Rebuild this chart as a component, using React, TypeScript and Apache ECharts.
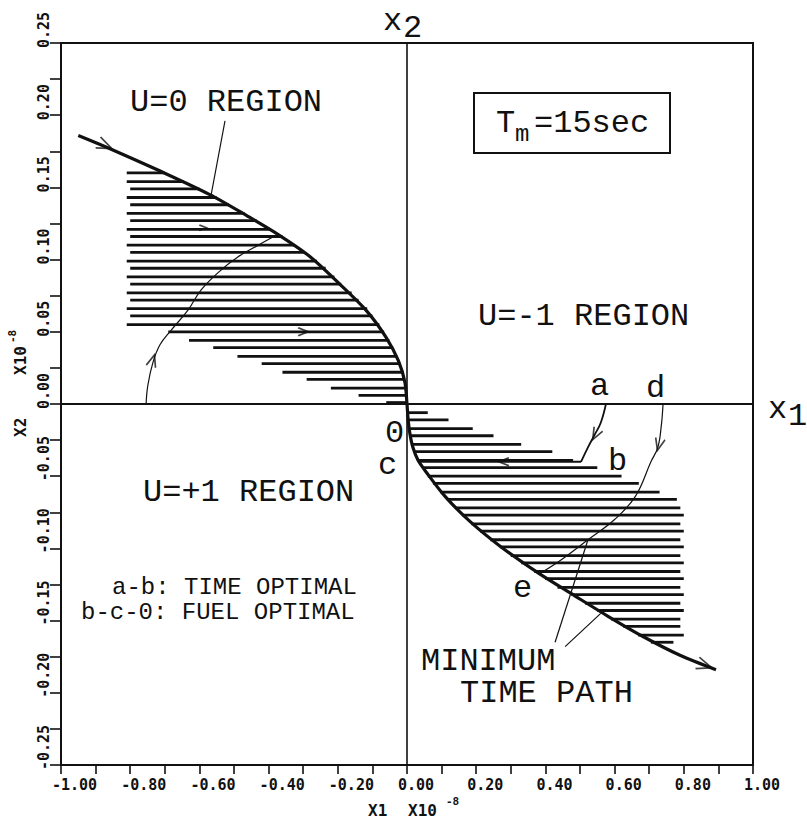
import React, { useEffect, useRef } from 'react';
import * as echarts from 'echarts';

// ---- tick labels ----
const xTickLabels = ['-1.00', '-0.80', '-0.60', '-0.40', '-0.20', '0.00', '0.20', '0.40', '0.60', '0.80', '1.00'];
const yTickLabels = ['-0.25', '-0.20', '-0.15', '-0.10', '-0.05', '0.00', '0.05', '0.10', '0.15', '0.20', '0.25'];

// ---- switching curve (x1, x2) ----
const switchingCurve: number[][] = [
  [-0.95, 0.186], [-0.86, 0.177], [-0.72, 0.162], [-0.57, 0.145], [-0.46, 0.130],
  [-0.37, 0.117], [-0.28, 0.102], [-0.19, 0.082], [-0.115, 0.064], [-0.06, 0.046],
  [-0.025, 0.030], [-0.006, 0.015], [0, 0], [0.003, -0.010], [0.008, -0.020],
  [0.017, -0.030], [0.032, -0.039], [0.052, -0.046], [0.11, -0.064], [0.185, -0.082],
  [0.272, -0.099], [0.379, -0.117], [0.486, -0.133], [0.581, -0.147], [0.682, -0.161],
  [0.789, -0.174], [0.893, -0.184],
];

// ---- hatch rows: [x2, x1 start, x1 end] ----
const upperHatch: number[][] = [
  [0.160, -0.81, -0.70], [0.154, -0.81, -0.645], [0.149, -0.80, -0.60], [0.143, -0.81, -0.55],
  [0.138, -0.80, -0.515], [0.132, -0.81, -0.47], [0.127, -0.80, -0.435], [0.121, -0.81, -0.395],
  [0.116, -0.80, -0.36], [0.110, -0.81, -0.325], [0.105, -0.80, -0.295], [0.099, -0.81, -0.26],
  [0.094, -0.80, -0.235], [0.088, -0.81, -0.21], [0.083, -0.80, -0.19], [0.077, -0.81, -0.16],
  [0.072, -0.80, -0.14], [0.066, -0.81, -0.115], [0.061, -0.80, -0.10], [0.055, -0.81, -0.08],
  [0.050, -0.69, -0.066], [0.044, -0.63, -0.051], [0.039, -0.56, -0.04], [0.033, -0.49, -0.028],
  [0.028, -0.42, -0.019], [0.022, -0.36, -0.011], [0.017, -0.29, -0.006], [0.011, -0.22, -0.003],
  [0.006, -0.14, 0.0], [0.001, -0.06, 0.0],
];
const lowerHatch: number[][] = [
  [-0.006, 0.0, 0.06], [-0.011, 0.002, 0.12], [-0.017, 0.005, 0.19], [-0.022, 0.008, 0.25],
  [-0.028, 0.013, 0.33], [-0.033, 0.019, 0.42], [-0.039, 0.030, 0.48], [-0.044, 0.044, 0.55],
  [-0.050, 0.060, 0.62], [-0.055, 0.075, 0.67], [-0.061, 0.097, 0.73], [-0.066, 0.115, 0.78],
  [-0.072, 0.139, 0.79], [-0.077, 0.16, 0.80], [-0.083, 0.186, 0.79], [-0.088, 0.211, 0.80],
  [-0.094, 0.241, 0.79], [-0.099, 0.268, 0.80], [-0.105, 0.30, 0.79], [-0.110, 0.33, 0.80],
  [-0.116, 0.368, 0.79], [-0.121, 0.399, 0.80], [-0.127, 0.435, 0.79], [-0.132, 0.475, 0.80],
  [-0.138, 0.515, 0.79], [-0.143, 0.55, 0.80], [-0.149, 0.59, 0.79], [-0.154, 0.625, 0.79],
  [-0.160, 0.668, 0.80], [-0.165, 0.705, 0.77],
];

// ---- trajectories ----
const trajUPlus: number[][] = [
  [-0.754, 0.0], [-0.749, 0.013], [-0.734, 0.029], [-0.714, 0.041], [-0.682, 0.051],
  [-0.633, 0.065], [-0.595, 0.079], [-0.546, 0.091], [-0.488, 0.102], [-0.43, 0.110], [-0.385, 0.116],
];
const trajAB: number[][] = [[0.575, 0], [0.56, -0.013], [0.543, -0.021], [0.523, -0.030], [0.503, -0.040]];
const coastBC: number[][] = [[0.503, -0.040], [0.033, -0.040]];
const trajDE: number[][] = [
  [0.74, 0], [0.735, -0.015], [0.725, -0.030], [0.705, -0.040], [0.66, -0.064],
  [0.60, -0.080], [0.523, -0.094], [0.445, -0.108], [0.38, -0.118],
];
const leaderU0: number[][] = [[-0.526, 0.196], [-0.566, 0.145]];
const leaderMin1: number[][] = [[0.428, -0.165], [0.523, -0.094]];
const leaderMin2: number[][] = [[0.457, -0.168], [0.56, -0.145]];
const axisX1: number[][] = [[-1, 0], [1, 0]];
const axisX2: number[][] = [[0, 0.25], [0, -0.25]];

// ---- arrowheads: position and direction (deg, counter-clockwise) ----
const arrowPos: number[][] = [
  [-0.873, 0.179], [0.86, -0.181], [-0.735, 0.030], [-0.30, 0.050],
  [0.545, -0.021], [0.28, -0.040], [0.728, -0.028], [-0.59, 0.122],
];
const arrowAngle = [-24, -19, 73, 0, -118, 180, -104, 0];
const arrowSize = [15, 15, 12, 10, 12, 10, 12, 7];

const MONO = '"Liberation Mono", "Courier New", monospace';
const BMONO = '"DejaVu Sans Mono", monospace';
const INK = '#111';

function txt(x: number, y: number, text: string, size: number) {
  return {
    type: 'text', x, y,
    style: { text, font: `${size}px ${MONO}`, fill: INK, align: 'left', verticalAlign: 'middle' },
  };
}
function btxt(x: number, y: number, text: string, size: number) {
  return {
    type: 'text', x, y,
    style: { text, font: `bold ${size}px ${BMONO}`, fill: INK, align: 'left', verticalAlign: 'middle' },
  };
}

function lineSeries(data: number[][], width: number, smooth: number | boolean = false) {
  return {
    type: 'line', data, showSymbol: false, symbol: 'none', smooth, silent: true,
    lineStyle: { color: INK, width }, z: 3,
  };
}

function hatchSeries(rows: number[][]) {
  return {
    type: 'custom', data: rows, silent: true, z: 2,
    encode: { x: [1, 2], y: 0 },
    renderItem: (_p: any, api: any) => {
      const y = api.value(0);
      const a = api.coord([api.value(1), y]);
      const b = api.coord([api.value(2), y]);
      return {
        type: 'line',
        shape: { x1: a[0], y1: a[1], x2: b[0], y2: b[1] },
        style: { stroke: INK, lineWidth: 2.8 },
      };
    },
  };
}

export default function App() {
  const ref = useRef<HTMLDivElement>(null);
  useEffect(() => {
    const chart = echarts.init(ref.current!, null, { renderer: 'svg' });
    const tickFont = { fontFamily: BMONO, fontWeight: 'bold', fontSize: 15, color: INK };
    const option: any = {
      animation: false,
      backgroundColor: '#fff',
      grid: { left: 61, right: 54, top: 43, bottom: 56, show: true, borderColor: INK, borderWidth: 2 },
      xAxis: {
        type: 'value', min: -1, max: 1, interval: 0.2,
        axisLine: { onZero: false, lineStyle: { color: INK, width: 2 } },
        axisTick: { show: true, length: 9, lineStyle: { color: INK, width: 1.6 } },
        minorTick: { show: true, splitNumber: 2, length: 9, lineStyle: { color: INK, width: 1.6 } },
        splitLine: { show: false }, minorSplitLine: { show: false },
        axisLabel: {
          ...tickFont, margin: 12, align: 'left', padding: [0, 0, 0, -9],
          formatter: (v: number) => xTickLabels[Math.round((v + 1) / 0.2)],
        },
      },
      yAxis: {
        type: 'value', min: -0.25, max: 0.25, interval: 0.05,
        axisLine: { onZero: false, lineStyle: { color: INK, width: 2 } },
        axisTick: { show: true, length: 11, lineStyle: { color: INK, width: 1.6 } },
        minorTick: { show: true, splitNumber: 2, length: 11, lineStyle: { color: INK, width: 1.6 } },
        splitLine: { show: false }, minorSplitLine: { show: false },
        axisLabel: {
          ...tickFont, rotate: 90, margin: 17, align: 'left', verticalAlign: 'middle', padding: [0, 0, 0, -5],
          formatter: (v: number) => yTickLabels[Math.round((v + 0.25) / 0.05)],
        },
      },
      series: [
        hatchSeries(upperHatch),
        hatchSeries(lowerHatch),
        lineSeries(axisX1, 2),
        lineSeries(axisX2, 1.6),
        lineSeries(switchingCurve, 3.2, 0.3),
        lineSeries(trajUPlus, 1.2, 0.4),
        lineSeries(trajAB, 1.8, 0.4),
        lineSeries(coastBC, 2.2),
        lineSeries(trajDE, 1.2, 0.4),
        lineSeries(leaderU0, 1.2),
        lineSeries(leaderMin1, 1.2),
        lineSeries(leaderMin2, 1.2),
        {
          type: 'scatter', silent: true, z: 4,
          symbol: 'path://M0,0L10,5L0,10',
          data: arrowPos.map((p, i) => ({
            value: p, symbolRotate: arrowAngle[i], symbolSize: [arrowSize[i], arrowSize[i] * 0.8],
          })),
          itemStyle: { color: 'transparent', borderColor: INK, borderWidth: 1.8 },
        },
      ],
      graphic: [
        // axis names inside figure
        txt(383, 21.5, 'x', 32),
        txt(403, 28.5, '2', 32),
        txt(768, 409.5, 'x', 32),
        txt(788, 416, '1', 32),
        // region labels
        txt(130, 102.5, 'U=0 REGION', 32),
        txt(478, 316, 'U=-1 REGION', 32),
        txt(143, 492, 'U=+1 REGION', 32),
        // T_m box
        { type: 'rect', shape: { x: 474, y: 93, width: 196, height: 60 }, style: { fill: 'none', stroke: INK, lineWidth: 2 } },
        txt(496, 123.5, 'T', 32),
        txt(515, 134, 'm', 24),
        txt(534, 123.5, '=15sec', 32),
        // point labels
        txt(590, 386.5, 'a', 32),
        txt(646, 388, 'd', 32),
        txt(608, 461, 'b', 32),
        txt(513, 588.5, 'e', 32),
        txt(385, 433, '0', 32),
        txt(378, 465, 'c', 32),
        txt(421, 661, 'MINIMUM', 32),
        txt(460, 693, 'TIME PATH', 32),
        txt(112, 587, 'a-b: TIME OPTIMAL', 24),
        txt(81, 612, 'b-c-0: FUEL OPTIMAL', 24),
        // axis titles (printed)
        btxt(368, 810, 'X1', 16),
        btxt(408, 810, 'X10', 16),
        btxt(446, 801, '-8', 11),
        {
          type: 'group', x: 20, y: 437, rotation: Math.PI / 2,
          children: [
            btxt(0, 0, 'X2', 16),
            btxt(62, 0, 'X10', 16),
            btxt(94, -8, '-8', 11),
          ],
        },
      ],
    };
    chart.setOption(option);
    return () => chart.dispose();
  }, []);
  return (
    <div
      ref={ref}
      style={{ position: 'fixed', left: 0, top: 0, width: 807, height: 821, background: '#fff' }}
    />
  );
}
